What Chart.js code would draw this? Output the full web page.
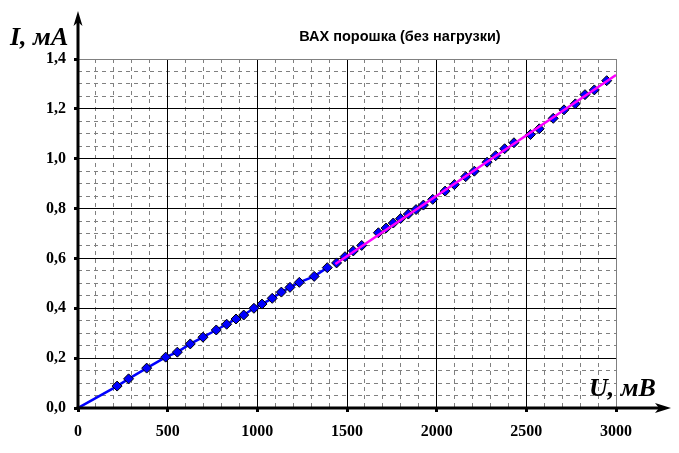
<!DOCTYPE html>
<html>
<head>
<meta charset="utf-8">
<title>ВАХ порошка</title>
<script src="https://cdn.jsdelivr.net/npm/chart.js@4.4.1/dist/chart.umd.min.js"></script>
<style>
  html, body { margin: 0; padding: 0; background: #fff; }
  canvas { display: block; }
</style>
</head>
<body>
<canvas id="vahChart" width="679" height="453"></canvas>
<script>
"use strict";

// U, мВ / I, мА — первый участок (синяя линия)
const U_SERIES_1 = [0, 218, 282, 383, 489, 554, 626, 697, 771, 829, 881, 924, 981, 1026, 1083, 1134, 1182, 1234, 1317, 1390];
const I_SERIES_1 = [0, 0.088, 0.117, 0.160, 0.204, 0.224, 0.257, 0.284, 0.313, 0.336, 0.357, 0.373, 0.400, 0.417, 0.440, 0.465, 0.484, 0.504, 0.528, 0.563];

// второй участок (точки под розовой линией)
const U_SERIES_2 = [1442, 1489, 1535, 1582, 1675, 1718, 1758, 1799, 1842, 1885, 1926, 1978, 2047, 2099, 2162, 2210, 2281, 2329, 2379, 2431, 2523, 2572, 2650, 2710, 2773, 2827, 2879, 2948];
const I_SERIES_2 = [0.582, 0.607, 0.630, 0.652, 0.703, 0.722, 0.742, 0.760, 0.778, 0.796, 0.814, 0.837, 0.870, 0.896, 0.928, 0.950, 0.986, 1.012, 1.040, 1.064, 1.097, 1.120, 1.162, 1.196, 1.220, 1.257, 1.276, 1.313];

// линия тренда
const U_TREND = [1435, 3000];
const I_TREND = [0.578, 1.336];

const X_MIN = 0, X_MAX = 3000, X_MAJOR = 500, X_MINOR = 100;
const Y_MIN = 0, Y_MAX = 1.4, Y_MAJOR = 0.2, Y_MINOR = 0.05;

const CHART_TITLE = "ВАХ порошка (без нагрузки)";
const Y_LABEL = "I, мА";
const X_LABEL = "U, мВ";

function toPoints(xs, ys) {
  return xs.map(function (x, i) {
    return { x: x, y: ys[i] };
  });
}

function isMultiple(value, step) {
  const r = value / step;
  return Math.abs(r - Math.round(r)) < 1e-6;
}

const tickFont = { family: "'Liberation Serif', 'Times New Roman', serif", weight: "bold", size: 16 };

const axesPlugin = {
  id: "axesArrows",
  afterDraw(chart) {
    const ctx = chart.ctx;
    const x0 = chart.scales.x.getPixelForValue(X_MIN);
    const y0 = chart.scales.y.getPixelForValue(Y_MIN);
    ctx.save();
    ctx.strokeStyle = "#000";
    ctx.fillStyle = "#000";
    ctx.lineWidth = 3;
    ctx.lineCap = "butt";

    // ось I
    ctx.beginPath();
    ctx.moveTo(x0, y0 + 1.5);
    ctx.lineTo(x0, 22);
    ctx.stroke();
    ctx.beginPath();
    ctx.moveTo(x0, 11);
    ctx.lineTo(x0 + 4.5, 26);
    ctx.lineTo(x0, 22);
    ctx.lineTo(x0 - 4.5, 26);
    ctx.closePath();
    ctx.fill();

    // ось U
    ctx.beginPath();
    ctx.moveTo(x0 - 1.5, y0);
    ctx.lineTo(660, y0);
    ctx.stroke();
    ctx.beginPath();
    ctx.moveTo(671, y0);
    ctx.lineTo(655, y0 - 5);
    ctx.lineTo(659, y0);
    ctx.lineTo(655, y0 + 5);
    ctx.closePath();
    ctx.fill();

    // подписи
    ctx.textAlign = "left";
    ctx.textBaseline = "alphabetic";
    ctx.font = "bold italic 26px 'Liberation Serif', 'Times New Roman', serif";
    ctx.fillText(Y_LABEL, 10, 45);
    ctx.fillText(X_LABEL, 589, 396);

    ctx.textAlign = "center";
    ctx.textBaseline = "middle";
    ctx.font = "bold 14.5px 'Liberation Sans', Arial, sans-serif";
    ctx.fillText(CHART_TITLE, 400, 37);
    ctx.restore();
  },
};

const markerStyle = {
  pointStyle: "rectRot",
  pointRadius: 5,
  pointBackgroundColor: "#0000ff",
  pointBorderColor: "#000",
  pointBorderWidth: 1,
};

let context = document.querySelector("#vahChart").getContext("2d");
new Chart(context, {
  type: "scatter",
  data: {
    datasets: [
      Object.assign({
        label: "участок 1",
        data: toPoints(U_SERIES_1, I_SERIES_1),
        showLine: true,
        borderColor: "#0000ff",
        borderWidth: 2.5,
        order: 2,
      }, markerStyle, {
        pointRadius: U_SERIES_1.map(function (u) { return u === 0 ? 0 : 5; }),
      }),
      Object.assign({
        label: "участок 2",
        data: toPoints(U_SERIES_2, I_SERIES_2),
        showLine: false,
        order: 1,
      }, markerStyle),
      {
        label: "тренд",
        data: toPoints(U_TREND, I_TREND),
        showLine: true,
        borderColor: "#ff00ff",
        borderWidth: 2.5,
        pointRadius: 0,
        order: 0,
      },
    ],
  },
  options: {
    responsive: false,
    animation: false,
    layout: {
      padding: { top: 59, right: 63, left: 0, bottom: 0 },
    },
    plugins: {
      legend: { display: false },
      tooltip: { enabled: false },
    },
    scales: {
      xMinor: {
        type: "linear",
        position: "bottom",
        min: X_MIN,
        max: X_MAX,
        ticks: { display: false, stepSize: X_MINOR },
        grid: {
          drawTicks: false,
          color: function (c) {
            return isMultiple(c.tick.value, X_MAJOR) ? "rgba(0,0,0,0)" : "#808080";
          },
        },
        border: { display: false, dash: [4, 4] },
        afterFit: function (scale) {
          scale.height = 0;
          scale.paddingLeft = 0;
          scale.paddingRight = 0;
        },
      },
      yMinor: {
        type: "linear",
        position: "left",
        min: Y_MIN,
        max: Y_MAX,
        ticks: { display: false, stepSize: Y_MINOR },
        grid: {
          drawTicks: false,
          color: function (c) {
            return isMultiple(c.tick.value, Y_MAJOR) ? "rgba(0,0,0,0)" : "#808080";
          },
        },
        border: { display: false, dash: [4, 4] },
        afterFit: function (scale) {
          scale.width = 0;
          scale.paddingTop = 0;
          scale.paddingBottom = 0;
        },
      },
      x: {
        type: "linear",
        position: "bottom",
        min: X_MIN,
        max: X_MAX,
        ticks: {
          stepSize: X_MAJOR,
          color: "#000",
          font: tickFont,
          padding: 10,
          maxRotation: 0,
          callback: function (value) {
            return String(value);
          },
        },
        grid: {
          color: function (c) {
            return c.tick.value === X_MAX ? "#808080" : "#000";
          },
          lineWidth: 1,
          tickLength: 4,
          tickWidth: 3,
          tickColor: "#000",
        },
        border: { display: false },
        afterFit: function (scale) {
          scale.height = 45;
          scale.paddingLeft = 0;
          scale.paddingRight = 0;
        },
      },
      y: {
        type: "linear",
        position: "left",
        min: Y_MIN,
        max: Y_MAX,
        ticks: {
          stepSize: Y_MAJOR,
          color: "#000",
          font: tickFont,
          padding: 8,
          callback: function (value) {
            return value.toFixed(1).replace(".", ",");
          },
        },
        grid: {
          color: function (c) {
            return Math.abs(c.tick.value - Y_MAX) < 1e-6 ? "#808080" : "#000";
          },
          lineWidth: 1,
          tickLength: 4,
          tickWidth: 3,
          tickColor: "#000",
        },
        border: { display: false },
        afterFit: function (scale) {
          scale.width = 78;
          scale.paddingTop = 0;
          scale.paddingBottom = 0;
        },
      },
    },
  },
  plugins: [axesPlugin],
});
</script>
</body>
</html>
